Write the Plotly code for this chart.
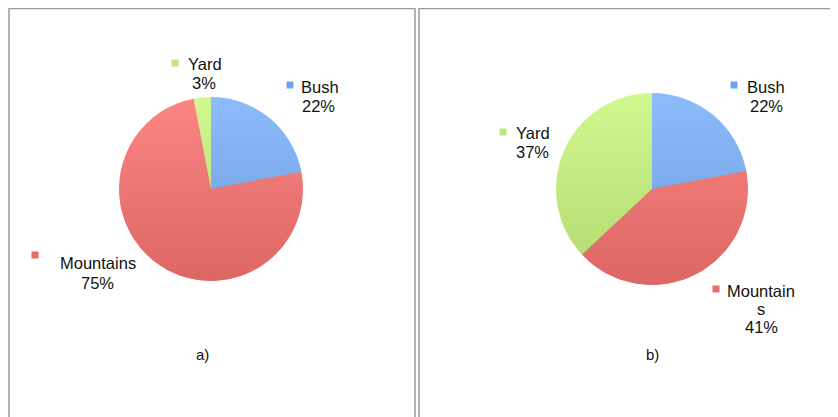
import numpy as np
import plotly.graph_objects as go

categories = ["Bush", "Mountains", "Yard"]
values_a = [22, 75, 3]
values_b = [22, 41, 37]
captions = ["a)", "b)"]
colors = ["rgba(120,175,251,0.85)", "rgba(250,112,108,0.85)", "rgba(201,246,123,0.85)"]
swatch = ["#6fa4ec", "#e96e6a", "#bde67e"]

W, H = 838, 417
OFF = 8  # page body margin of the exported HTML
FONT = "Liberation Sans, Arial, sans-serif"

fig = go.Figure()

def px(x):
    return (x - OFF) / W

def py(y):
    return 1 - (y - OFF) / H

def add_pie(values, cx, cy, r):
    # soft vertical shading underneath the translucent slices
    t = np.linspace(0, 2 * np.pi, 181)
    fig.add_trace(go.Scatter(
        x=cx + (r - 0.3) * np.sin(t), y=cy - (r - 0.3) * np.cos(t),
        mode="lines", line=dict(width=0), fill="toself",
        fillgradient=dict(type="vertical", start=cy - r, stop=cy + r,
                          colorscale=[[0, "#ffffff"], [1, "#333333"]]),
        hoverinfo="skip", showlegend=False,
    ))
    fig.add_trace(go.Pie(
        labels=categories, values=values, sort=False, direction="clockwise",
        rotation=0, textinfo="none", hoverinfo="label+percent",
        marker=dict(colors=colors, line=dict(width=0)),
        domain=dict(x=[px(cx - r), px(cx + r)], y=[py(cy + r), py(cy - r)]),
        showlegend=False,
    ))

add_pie(values_a, 211, 189, 92)
add_pie(values_b, 652, 189, 96)

def label(cat_idx, values, sq_x, sq_y, text_x, pct_x, lines_y, name_lines=None):
    fig.add_shape(type="rect", xref="paper", yref="paper",
                  x0=px(sq_x - 3.5), x1=px(sq_x + 3.5), y0=py(sq_y + 3.5), y1=py(sq_y - 3.5),
                  fillcolor=swatch[cat_idx], line=dict(width=0))
    names = name_lines or [categories[cat_idx]]
    total = sum(values)
    pct = f"{round(values[cat_idx] / total * 100)}%"
    fig.add_annotation(x=px(text_x), y=py(lines_y[0]), xref="paper", yref="paper",
                       text=names[0], showarrow=False, xanchor="left", yanchor="middle",
                       font=dict(family=FONT, size=16.5, color="#111"))
    rest = names[1:] + [pct]
    for t, ly in zip(rest, lines_y[1:]):
        fig.add_annotation(x=px(pct_x), y=py(ly), xref="paper", yref="paper",
                           text=t, showarrow=False, xanchor="center", yanchor="middle",
                           font=dict(family=FONT, size=16.5, color="#111"))

# panel a labels
label(2, values_a, 175, 63, 186, 204, [64, 83])
label(0, values_a, 290, 85, 299, 318, [87, 106])
label(1, values_a, 35, 255, 58, 97, [263, 283])
# panel b labels
label(0, values_b, 734, 85, 745, 766, [87, 106])
label(2, values_b, 503, 132, 514, 532, [133, 152])
label(1, values_b, 716, 289, 725, 761, [291, 309, 327], name_lines=["Mountain", "s"])

for cap, cx in zip(captions, [202, 652]):
    fig.add_annotation(x=px(cx), y=py(354), xref="paper", yref="paper", text=cap,
                       showarrow=False, xanchor="center", yanchor="middle",
                       font=dict(family=FONT, size=15, color="#111"))

# panel borders
border = dict(color="#9a9a9a", width=1.5)
fig.add_shape(type="rect", xref="paper", yref="paper",
              x0=px(9), x1=px(415), y0=py(430), y1=py(8.5), line=border)
fig.add_shape(type="rect", xref="paper", yref="paper",
              x0=px(419), x1=px(850), y0=py(430), y1=py(8.5), line=border)

fig.update_layout(
    width=W, height=H, margin=dict(l=0, r=0, t=0, b=0),
    paper_bgcolor="white", plot_bgcolor="rgba(0,0,0,0)",
    xaxis=dict(range=[OFF, OFF + W], domain=[0, 1], visible=False, fixedrange=True),
    yaxis=dict(range=[OFF + H, OFF], domain=[0, 1], visible=False, fixedrange=True),
)

fig.write_html("out.html")
